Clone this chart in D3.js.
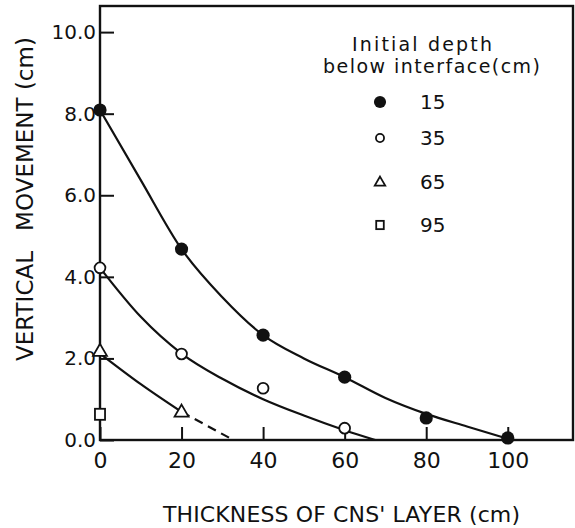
<!DOCTYPE html>
<html>
<head>
<meta charset="utf-8">
<script src="https://cdn.jsdelivr.net/npm/d3@7"></script>
<style>
  html, body { margin: 0; padding: 0; background: #fff; }
  svg { display: block; }
  text { fill: #111; font-family: "DejaVu Sans", sans-serif; }
</style>
</head>
<body>
<script>
// ---- data ----
const thickness = [0, 20, 40, 60, 80, 100];           // x categories (cm)
const depth15 = [8.09, 4.68, 2.57, 1.54, 0.54, 0.05];   // filled circles
const thick35 = [0, 20, 40, 60];
const depth35 = [4.22, 2.11, 1.27, 0.29];               // open circles
const thick65 = [0, 20];
const depth65 = [2.18, 0.69];                           // triangles
const thick95 = [0];
const depth95 = [0.63];                                 // squares

// fitted curves
const fit15x = [0, 10, 20, 30, 40, 50, 60, 70, 80, 90, 100];
const fit15y = [8.09, 6.37, 4.68, 3.5, 2.57, 2.0, 1.54, 1.03, 0.64, 0.33, 0.03];
const fit35x = [0, 10, 20, 30, 40, 50, 60, 67.5];
const fit35y = [4.22, 3.02, 2.12, 1.5, 1.0, 0.6, 0.24, 0];
const fit65x = [0, 10, 20];
const fit65y = [2.12, 1.37, 0.69];
const dash65x = [20, 32.7];
const dash65y = [0.69, 0];

const xTicks = [0, 20, 40, 60, 80, 100];
const yTicks = [0, 2, 4, 6, 8, 10];
const legendLabels = ["15", "35", "65", "95"];
const legendTitle = ["Initial  depth", "below interface(cm)"];
const xTitle = "THICKNESS OF CNS' LAYER (cm)";
const yTitleA = "VERTICAL";
const yTitleB = "MOVEMENT (cm)";

// ---- layout ----
const W = 575, H = 528;
const m = { left: 100, right: 2, top: 6, bottom: 88 };
const svg = d3.select("body").append("svg").attr("width", W).attr("height", H);

const x = d3.scaleLinear().domain([0, 116]).range([m.left, W - m.right]);
const y = d3.scaleLinear().domain([0, 10.64]).range([H - m.bottom, m.top]);

const ink = "#111";

// frame
svg.append("rect")
  .attr("x", x(0)).attr("y", y(10.64))
  .attr("width", x(116) - x(0)).attr("height", y(0) - y(10.64))
  .attr("fill", "none").attr("stroke", ink).attr("stroke-width", 2.4);

// axes
const gx = svg.append("g").attr("transform", `translate(0,${y(0)})`)
  .call(d3.axisBottom(x).tickValues(xTicks).tickSizeInner(-13).tickSizeOuter(0).tickPadding(12).tickFormat(d3.format("d")));
gx.select(".domain").remove();
gx.selectAll("line").attr("stroke", ink).attr("stroke-width", 2);
gx.selectAll("text").attr("font-family", "'DejaVu Sans Condensed', 'DejaVu Sans', sans-serif")
  .attr("font-size", 22).attr("fill", ink);

const gy = svg.append("g").attr("transform", `translate(${x(0)},0)`)
  .call(d3.axisLeft(y).tickValues(yTicks).tickSizeInner(-14).tickSizeOuter(0).tickPadding(4).tickFormat(d3.format(".1f")));
gy.select(".domain").remove();
gy.selectAll("line").attr("stroke", ink).attr("stroke-width", 2);
gy.selectAll("text").attr("font-family", "'DejaVu Sans', sans-serif")
  .attr("font-size", 20).attr("fill", ink);

// titles
svg.append("text").attr("x", (163 + 520) / 2).attr("y", 522)
  .attr("text-anchor", "middle").attr("font-size", 22)
  .attr("textLength", 357).text(xTitle);
svg.append("text").attr("transform", "translate(33,306) rotate(-90)")
  .attr("text-anchor", "middle").attr("font-size", 23).text(yTitleA);
svg.append("text").attr("transform", "translate(33,134) rotate(-90)")
  .attr("text-anchor", "middle").attr("font-size", 23).text(yTitleB);

// curves
const line = d3.line().x(d => x(d[0])).y(d => y(d[1])).curve(d3.curveMonotoneX);
const curves = [
  { xs: fit15x, ys: fit15y, dash: null },
  { xs: fit35x, ys: fit35y, dash: null },
  { xs: fit65x, ys: fit65y, dash: null },
  { xs: dash65x, ys: dash65y, dash: "9,6" }
];
curves.forEach(c => {
  svg.append("path").datum(d3.zip(c.xs, c.ys))
    .attr("d", line).attr("fill", "none").attr("stroke", ink)
    .attr("stroke-width", 2.2).attr("stroke-dasharray", c.dash);
});

// markers
const triPath = (s) => `M0,${-s * 0.6}L${s * 0.58},${s * 0.4}L${-s * 0.58},${s * 0.4}Z`;
function drawMarker(g, kind, cx, cy, size) {
  if (kind === 0) {
    g.append("circle").attr("cx", cx).attr("cy", cy).attr("r", size * 0.55).attr("fill", ink);
  } else if (kind === 1) {
    g.append("circle").attr("cx", cx).attr("cy", cy).attr("r", size * 0.45)
      .attr("fill", "#fff").attr("stroke", ink).attr("stroke-width", 1.8);
  } else if (kind === 2) {
    g.append("path").attr("transform", `translate(${cx},${cy})`).attr("d", triPath(size))
      .attr("fill", "#fff").attr("stroke", ink).attr("stroke-width", 1.8);
  } else {
    g.append("rect").attr("x", cx - size * 0.42).attr("y", cy - size * 0.46)
      .attr("width", size * 0.84).attr("height", size * 0.92)
      .attr("fill", "#fff").attr("stroke", ink).attr("stroke-width", 1.8);
  }
}
const series = [
  { xs: thickness, ys: depth15 },
  { xs: thick35, ys: depth35 },
  { xs: thick65, ys: depth65 },
  { xs: thick95, ys: depth95 }
];
const gm = svg.append("g");
series.forEach((s, k) => {
  s.xs.forEach((xv, i) => drawMarker(gm, k, x(xv), y(s.ys[i]), 12));
});

// legend
const lg = svg.append("g");
lg.append("text").attr("x", 352).attr("y", 51).attr("font-size", 19)
  .attr("textLength", 140).text(legendTitle[0]);
lg.append("text").attr("x", 323).attr("y", 73).attr("font-size", 19)
  .attr("textLength", 217).text(legendTitle[1]);
const legY = [102, 138, 182, 225];
legendLabels.forEach((lab, k) => {
  drawMarker(lg, k, 380, legY[k], k === 0 ? 11 : 9);
  lg.append("text").attr("x", 420).attr("y", legY[k]).attr("dy", "0.36em")
    .attr("font-size", 20).text(lab);
});
</script>
</body>
</html>
